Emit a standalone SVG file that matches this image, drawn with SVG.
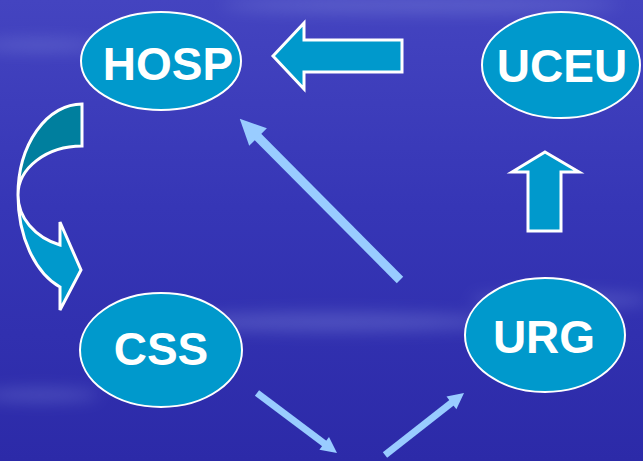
<svg xmlns="http://www.w3.org/2000/svg" width="643" height="461" viewBox="0 0 643 461">
  <defs>
    <linearGradient id="bg" x1="0" y1="0" x2="0" y2="1">
      <stop offset="0" stop-color="#4444C0"/>
      <stop offset="0.45" stop-color="#3636B6"/>
      <stop offset="1" stop-color="#2C2AA8"/>
    </linearGradient>
    <filter id="blur" x="-50%" y="-50%" width="200%" height="200%">
      <feGaussianBlur stdDeviation="8"/>
    </filter>
    <marker id="headBig" markerUnits="userSpaceOnUse" markerWidth="26" markerHeight="26" viewBox="0 -12 24 24" refX="4" refY="0" orient="auto">
      <path d="M0,-11.5 L24,0 L0,11.5 z" fill="#99CCFF"/>
    </marker>
    <marker id="headSmall" markerUnits="userSpaceOnUse" markerWidth="18" markerHeight="18" viewBox="0 -9 16 18" refX="3" refY="0" orient="auto">
      <path d="M0,-8 L16,0 L0,8 z" fill="#99CCFF"/>
    </marker>
  </defs>
  <style>
    .node ellipse { fill: #0099CC; stroke: #FFFFFF; stroke-width: 2; }
    .node text { font-family: "Liberation Sans", Arial, sans-serif; font-weight: bold; font-size: 46px; fill: #FFFFFF; text-anchor: middle; }
    .block { fill: #0099CC; stroke: #FFFFFF; stroke-width: 3; stroke-linejoin: miter; }
    .blockDark { fill: #007F9E; stroke: #FFFFFF; stroke-width: 3; }
    .thin { stroke: #99CCFF; fill: none; }
  </style>

  <!-- background -->
  <rect x="0" y="0" width="643" height="461" fill="url(#bg)"/>
  <g filter="url(#blur)" opacity="0.35" fill="#8C94E0">
    <ellipse cx="330" cy="322" rx="170" ry="9"/>
    <ellipse cx="40" cy="45" rx="60" ry="6"/>
    <ellipse cx="560" cy="300" rx="90" ry="7"/>
    <ellipse cx="420" cy="5" rx="200" ry="8"/>
    <ellipse cx="40" cy="395" rx="60" ry="6"/>
  </g>

  <!-- connectors -->
  <g id="connectors">
    <path class="blockDark" d="M82,104 A64,91 0 0 0 18,195 A64,49 0 0 1 82,146 Z"/>
    <path class="block" d="M18,195 A64,98 0 0 0 60,287 L60,310 L81,270 L60,222 L60,245 A64,53 0 0 1 18,195 Z"/>
    <polygon class="block" points="273,56 304,23 304,40 402,40 402,72 304,72 304,89"/>
    <polygon class="block" points="545,152 579,172 561,172 561,231 528,231 528,172 512,172"/>
    <line class="thin" x1="400" y1="280" x2="255" y2="134" stroke-width="9" marker-end="url(#headBig)"/>
    <line class="thin" x1="257" y1="393" x2="326.6" y2="445.2" stroke-width="7" marker-end="url(#headSmall)"/>
    <line class="thin" x1="385" y1="455" x2="453.8" y2="401" stroke-width="7" marker-end="url(#headSmall)"/>
  </g>

  <!-- nodes -->
  <g id="node-hosp" class="node">
    <ellipse cx="161" cy="61" rx="80" ry="49"/>
    <text x="168" y="80">HOSP</text>
  </g>
  <g id="node-uceu" class="node">
    <ellipse cx="561" cy="65" rx="79" ry="53"/>
    <text x="562" y="82">UCEU</text>
  </g>
  <g id="node-css" class="node">
    <ellipse cx="161" cy="350" rx="81" ry="57"/>
    <text x="161" y="365">CSS</text>
  </g>
  <g id="node-urg" class="node">
    <ellipse cx="545" cy="335" rx="80" ry="57"/>
    <text x="544" y="353">URG</text>
  </g>
</svg>
